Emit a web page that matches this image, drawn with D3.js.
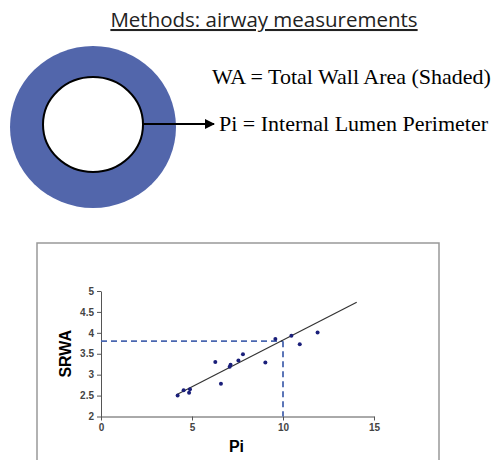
<!DOCTYPE html>
<meta charset="utf-8">
<style>
  body { margin: 0; background: #fff; }
  .axis text { font-family: Arial, "Liberation Sans", sans-serif; font-size: 10px; font-weight: bold; fill: #444; }
  .axis path, .axis line { stroke: #555; }
</style>
<svg width="500" height="460"></svg>
<script src="https://d3js.org/d3.v7.min.js"></script>
<script>
// data
var piValues   = [4.21, 4.54, 4.84, 4.89, 6.28, 6.59, 7.07, 7.12, 7.55, 7.80, 9.03, 9.58, 10.46, 10.92, 11.90];
var srwaValues = [2.50, 2.63, 2.57, 2.65, 3.30, 2.78, 3.19, 3.24, 3.34, 3.49, 3.29, 3.85, 3.93, 3.73, 4.01];
var fitLine    = [[4.2, 2.53], [14.05, 4.73]];
var refPoint   = [10, 3.8];
var xTicks = [0, 5, 10, 15];
var yTicks = [2, 2.5, 3, 3.5, 4, 4.5, 5];

var svg = d3.select("svg");

// ---- top diagram ----
svg.append("text")
    .attr("x", 264).attr("y", 27)
    .attr("text-anchor", "middle")
    .style("font-family", "'Open Sans', sans-serif")
    .style("font-size", "20.5px")
    .style("fill", "#222")
    .style("text-decoration", "underline")
    .text("Methods: airway measurements");

svg.append("ellipse")
    .attr("cx", 93).attr("cy", 127).attr("rx", 83).attr("ry", 81)
    .attr("fill", "#5266ab");
svg.append("ellipse")
    .attr("cx", 93).attr("cy", 124.5).attr("rx", 50).attr("ry", 47.5)
    .attr("fill", "#fff").attr("stroke", "#000").attr("stroke-width", 2);

svg.append("defs").append("marker")
    .attr("id", "arrow").attr("viewBox", "0 0 10 10")
    .attr("refX", 9).attr("refY", 5)
    .attr("markerWidth", 5).attr("markerHeight", 5)
    .attr("orient", "auto")
  .append("path").attr("d", "M0,0 L10,5 L0,10 Z").attr("fill", "#000");

svg.append("line")
    .attr("x1", 143).attr("y1", 124).attr("x2", 214).attr("y2", 124)
    .attr("stroke", "#000").attr("stroke-width", 2)
    .attr("marker-end", "url(#arrow)");

var serif = "'Liberation Serif', 'Times New Roman', serif";
svg.append("text")
    .attr("x", 212).attr("y", 84)
    .style("font-family", serif).style("font-size", "22px")
    .text("WA = Total Wall Area (Shaded)");
svg.append("text")
    .attr("x", 219).attr("y", 131)
    .style("font-family", serif).style("font-size", "22px")
    .text("Pi = Internal Lumen Perimeter");

// ---- chart box ----
svg.append("rect")
    .attr("x", 37).attr("y", 243).attr("width", 402).attr("height", 240)
    .attr("fill", "none").attr("stroke", "#999").attr("stroke-width", 1.5);

var x = d3.scaleLinear().domain([0, 15]).range([101, 374]),
    y = d3.scaleLinear().domain([2, 5]).range([416.5, 291]);

svg.append("g")
    .attr("class", "axis")
    .attr("transform", "translate(0," + y(2) + ")")
    .call(d3.axisBottom(x).tickValues(xTicks).tickSize(4).tickSizeOuter(0).tickPadding(3));

svg.append("g")
    .attr("class", "axis")
    .attr("transform", "translate(" + x(0) + ",0)")
    .call(d3.axisLeft(y).tickValues(yTicks).tickSize(4).tickSizeOuter(0).tickPadding(3)
      .tickFormat(function(d) { return String(d); }));

// reference dashed lines
var dashStyle = function(s) {
  s.attr("stroke", "#4a67b0").attr("stroke-width", 1.8).attr("stroke-dasharray", "6,4").attr("fill", "none");
};
svg.append("line")
    .attr("x1", x(0)).attr("y1", y(refPoint[1]))
    .attr("x2", x(refPoint[0])).attr("y2", y(refPoint[1]))
    .call(dashStyle);
svg.append("line")
    .attr("x1", x(refPoint[0])).attr("y1", y(refPoint[1]))
    .attr("x2", x(refPoint[0])).attr("y2", y(2))
    .call(dashStyle);

// trend line
svg.append("path")
    .datum(fitLine)
    .attr("d", d3.line().x(function(d) { return x(d[0]); }).y(function(d) { return y(d[1]); }))
    .attr("stroke", "#333").attr("stroke-width", 1.2).attr("fill", "none");

// points
svg.selectAll(".dot")
    .data(piValues)
  .enter().append("circle")
    .attr("class", "dot")
    .attr("cx", function(d) { return x(d); })
    .attr("cy", function(d, i) { return y(srwaValues[i]); })
    .attr("r", 2)
    .attr("fill", "#1a1f7a");

// axis titles
var bold = "Arial, 'Liberation Sans', sans-serif";
svg.append("text")
    .attr("x", x(7.5) - 1).attr("y", 452)
    .attr("text-anchor", "middle")
    .style("font-family", bold).style("font-size", "16px").style("font-weight", "bold")
    .text("Pi");
svg.append("text")
    .attr("transform", "translate(71," + y(3.5) + ") rotate(-90)")
    .attr("text-anchor", "middle")
    .style("font-family", bold).style("font-size", "16px").style("font-weight", "bold")
    .text("SRWA");
</script>
